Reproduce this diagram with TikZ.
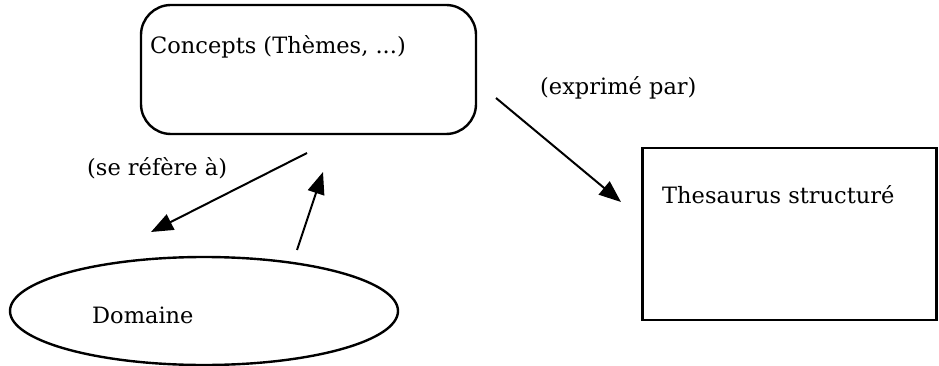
\documentclass[tikz,border=0pt]{standalone}
\usepackage{fontspec}
\setmainfont{DejaVu Serif}
\usetikzlibrary{arrows.meta,shapes.geometric}
\begin{document}
\begin{tikzpicture}[x=1pt,y=-1pt,
  lbl/.style={anchor=west,inner sep=0pt,font=\fontsize{22.5}{27}\selectfont},
  conn/.style={line width=2pt,-{Triangle[length=22pt,width=17pt]}},
  shp/.style={draw,line width=2.4pt,inner sep=0pt}]
\useasboundingbox (0,0) rectangle (939,366);
\fill[white] (0,0) rectangle (939,366);
\node[shp,rectangle,rounded corners=30pt,minimum width=335pt,minimum height=129pt] (concepts) at (308.5,69.5) {};
\node[lbl] (conceptsl) at (150,47) {Concepts (Thèmes, ...)};
\node[shp,rectangle,minimum width=294pt,minimum height=172pt] (thes) at (789.5,234) {};
\node[lbl] (thesl) at (662,195) {Thesaurus structuré};
\node[shp,ellipse,minimum width=388pt,minimum height=108pt] (dom) at (204,311) {};
\node[lbl] (doml) at (92,315) {Domaine};
\node[lbl] (expr) at (540,88) {(exprimé par)};
\node[lbl] (ref) at (87,168) {(se réfère à)};
\coordinate (a1s) at (496,98);
\coordinate (a1e) at (621,202);
\coordinate (a2s) at (307,153);
\coordinate (a2e) at (151,232);
\coordinate (a3s) at (297,250);
\coordinate (a3e) at (323,172);
\draw[conn] (a1s) -- (a1e);
\draw[conn] (a2s) -- (a2e);
\draw[conn] (a3s) -- (a3e);
\end{tikzpicture}
\end{document}
